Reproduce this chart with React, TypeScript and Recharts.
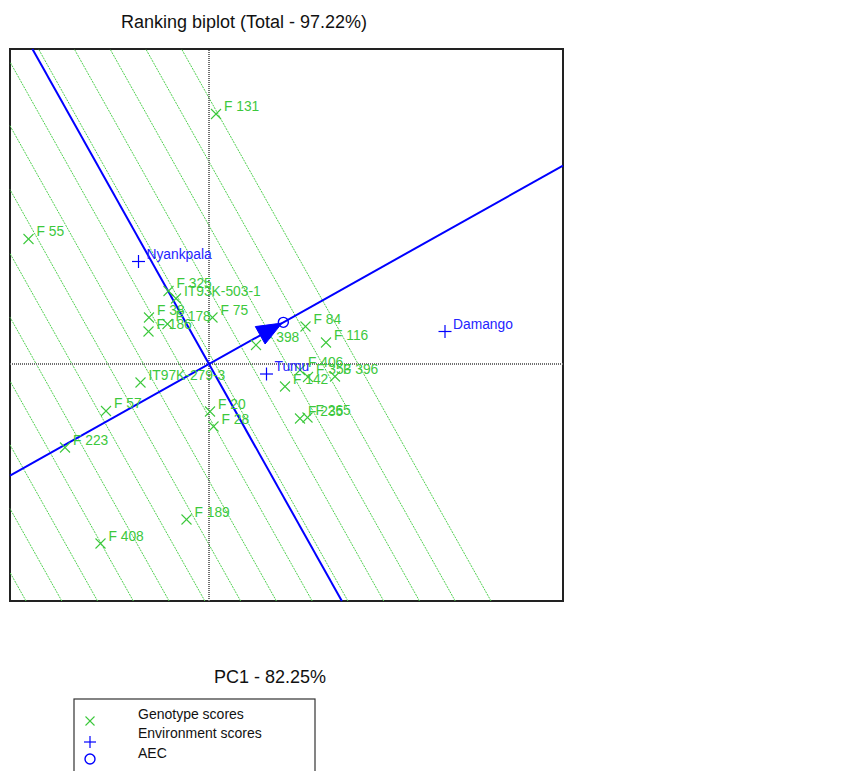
import React from 'react';
import { ScatterChart, Scatter, XAxis, YAxis, ReferenceLine, ReferenceArea } from 'recharts';

// ---- data (PC1 / PC2 scores) ----
const genotypeNames = [
  'F 131', 'F 55', 'F 325', 'IT93K-503-1', 'F 38', 'F 186', 'F 178', 'F 75',
  'F 398', 'F 84', 'F 116', 'F 406', 'F 142', 'F 353', 'F 396', 'F 235',
  'F 265', 'IT97K-279-3', 'F 57', 'F 223', 'F 20', 'F 28', 'F 189', 'F 408',
];
const genotypePC1 = [
  0.14, -3.61, -0.81, -0.66, -1.20, -1.21, -0.83, 0.07,
  0.94, 1.93, 2.34, 1.82, 1.52, 1.98, 2.52, 1.82,
  1.97, -1.37, -2.06, -2.88, 0.02, 0.09, -0.45, -2.17,
];
const genotypePC2 = [
  5.00, 2.50, 1.46, 1.31, 0.93, 0.65, 0.80, 0.93,
  0.38, 0.75, 0.43, -0.12, -0.45, -0.26, -0.25, -1.09,
  -1.07, -0.37, -0.94, -1.67, -0.95, -1.25, -3.11, -3.59,
];
const environmentNames = ['Nyankpala', 'Damango', 'Tumu'];
const environmentPC1 = [-1.41, 4.72, 1.15];
const environmentPC2 = [2.05, 0.65, -0.20];
// positions of the ranking lines along the AEC abscissa
const rankingLevels = [
  -5.51, -4.886, -4.262, -3.638, -3.014, -2.39, -1.766, -1.142, -0.518,
  0.106, 0.73, 1.354, 1.978, 2.602,
];
const xDomain: [number, number] = [-3.98, 7.08];
const yDomain: [number, number] = [-4.74, 6.3];

const GREEN = '#3cc83c';
const GREEN_LINE = '#4fd04f';
const BLUE = '#0000ff';
const ENV_BLUE = '#2424ff';
const FONT = "'Liberation Sans', Arial, sans-serif";

const genotypeData = genotypeNames.map((name, i) => ({ name, x: genotypePC1[i], y: genotypePC2[i] }));
const environmentData = environmentNames.map((name, i) => ({ name, x: environmentPC1[i], y: environmentPC2[i] }));
const aecX = environmentPC1.reduce((a, b) => a + b, 0) / environmentPC1.length;
const aecY = environmentPC2.reduce((a, b) => a + b, 0) / environmentPC2.length;
const aecData = [{ name: 'AEC', x: aecX, y: aecY }];
const aecLen = Math.sqrt(aecX * aecX + aecY * aecY);
const ux = aecX / aecLen;
const uy = aecY / aecLen;

function clipLine(px: number, py: number, dx: number, dy: number) {
  let lo = -Infinity;
  let hi = Infinity;
  const dims: [number, number, number, number][] = [
    [px, dx, xDomain[0], xDomain[1]],
    [py, dy, yDomain[0], yDomain[1]],
  ];
  for (const [p, d, mn, mx] of dims) {
    if (Math.abs(d) < 1e-12) {
      if (p < mn || p > mx) return null;
      continue;
    }
    const t1 = (mn - p) / d;
    const t2 = (mx - p) / d;
    lo = Math.max(lo, Math.min(t1, t2));
    hi = Math.min(hi, Math.max(t1, t2));
  }
  if (lo >= hi) return null;
  return [
    { x: px + lo * dx, y: py + lo * dy },
    { x: px + hi * dx, y: py + hi * dy },
  ];
}

const aecAxis = clipLine(0, 0, ux, uy);
const aecOrdinate = clipLine(0, 0, -uy, ux);
const rankingSegments = rankingLevels
  .map((p) => clipLine(p * ux, p * uy, -uy, ux))
  .filter((s) => s !== null) as { x: number; y: number }[][];

const GenotypeShape = (props: any) => {
  const { cx, cy, payload } = props;
  if (cx == null || cy == null) return null;
  const s = 5;
  return (
    <g>
      <line x1={cx - s} y1={cy - s} x2={cx + s} y2={cy + s} stroke={GREEN} strokeWidth={1.1} />
      <line x1={cx - s} y1={cy + s} x2={cx + s} y2={cy - s} stroke={GREEN} strokeWidth={1.1} />
      <text x={cx + 8} y={cy - 3} fill={GREEN} fontSize={13.8} fontFamily={FONT}>
        {payload.name}
      </text>
    </g>
  );
};

const EnvironmentShape = (props: any) => {
  const { cx, cy, payload } = props;
  if (cx == null || cy == null) return null;
  const s = 6.5;
  return (
    <g>
      <line x1={cx - s} y1={cy} x2={cx + s} y2={cy} stroke={BLUE} strokeWidth={1.2} />
      <line x1={cx} y1={cy - s} x2={cx} y2={cy + s} stroke={BLUE} strokeWidth={1.2} />
      <text x={cx + 8} y={cy - 3} fill={ENV_BLUE} fontSize={13.8} fontFamily={FONT}>
        {payload.name}
      </text>
    </g>
  );
};

const AecShape = (props: any) => {
  const { cx, cy } = props;
  if (cx == null || cy == null) return null;
  const dx = ux;
  const dy = -uy;
  const tipX = cx - dx * 1.5;
  const tipY = cy - dy * 1.5;
  const bx = tipX - dx * 25;
  const by = tipY - dy * 25;
  const nx = -dy;
  const ny = dx;
  const pts = `${tipX},${tipY} ${bx + nx * 10},${by + ny * 10} ${bx - nx * 10},${by - ny * 10}`;
  return (
    <g>
      <polygon points={pts} fill={BLUE} stroke={BLUE} strokeWidth={1} />
      <circle cx={cx} cy={cy} r={5} fill="none" stroke={BLUE} strokeWidth={1.4} />
    </g>
  );
};

export default function App() {
  return (
    <div style={{ position: 'absolute', left: 0, top: 0, width: 841, height: 771, background: '#fff' }}>
      <ScatterChart
        width={841}
        height={771}
        margin={{ top: 49, right: 278, bottom: 170, left: 10 }}
      >
        <XAxis type="number" dataKey="x" domain={xDomain} allowDataOverflow hide />
        <YAxis type="number" dataKey="y" domain={yDomain} allowDataOverflow hide />
        {rankingSegments.map((seg, i) => (
          <ReferenceLine
            key={`rk-${i}`}
            segment={seg}
            stroke={GREEN_LINE}
            strokeWidth={1}
            strokeDasharray="2 1"
            ifOverflow="visible"
          />
        ))}
        <ReferenceLine x={0} stroke="#707070" strokeWidth={2} strokeDasharray="1 1" ifOverflow="visible" />
        <ReferenceLine y={0} stroke="#707070" strokeWidth={2} strokeDasharray="1 1" ifOverflow="visible" />
        {aecAxis && (
          <ReferenceLine segment={aecAxis} stroke={BLUE} strokeWidth={2} ifOverflow="visible" />
        )}
        {aecOrdinate && (
          <ReferenceLine segment={aecOrdinate} stroke={BLUE} strokeWidth={2} ifOverflow="visible" />
        )}
        <ReferenceArea
          x1={xDomain[0]}
          x2={xDomain[1]}
          y1={yDomain[0]}
          y2={yDomain[1]}
          fill="none"
          fillOpacity={0}
          stroke="#222"
          strokeWidth={2}
          ifOverflow="visible"
        />
        <Scatter data={genotypeData} shape={GenotypeShape} isAnimationActive={false} />
        <Scatter data={environmentData} shape={EnvironmentShape} isAnimationActive={false} />
        <Scatter data={aecData} shape={AecShape} isAnimationActive={false} />
      </ScatterChart>
      <svg
        width={841}
        height={771}
        style={{ position: 'absolute', left: 0, top: 0, pointerEvents: 'none' }}
      >
        <text x={244} y={28} textAnchor="middle" fontSize={18} fontFamily={FONT} fill="#111">
          Ranking biplot (Total - 97.22%)
        </text>
        <text x={270} y={683} textAnchor="middle" fontSize={18} fontFamily={FONT} fill="#111">
          PC1 - 82.25%
        </text>
        <rect x={74} y={699} width={241} height={100} fill="#fff" stroke="#333" strokeWidth={1.2} />
        <line x1={85.5} y1={716.5} x2={94.5} y2={725.5} stroke={GREEN} strokeWidth={1.1} />
        <line x1={85.5} y1={725.5} x2={94.5} y2={716.5} stroke={GREEN} strokeWidth={1.1} />
        <line x1={84} y1={742} x2={96} y2={742} stroke={BLUE} strokeWidth={1.2} />
        <line x1={90} y1={736} x2={90} y2={748} stroke={BLUE} strokeWidth={1.2} />
        <circle cx={90} cy={759} r={5} fill="none" stroke={BLUE} strokeWidth={1.4} />
        <text x={138} y={719} fontSize={14} fontFamily={FONT} fill="#111">Genotype scores</text>
        <text x={138} y={738} fontSize={14} fontFamily={FONT} fill="#111">Environment scores</text>
        <text x={138} y={757.5} fontSize={14} fontFamily={FONT} fill="#111">AEC</text>
      </svg>
    </div>
  );
}
